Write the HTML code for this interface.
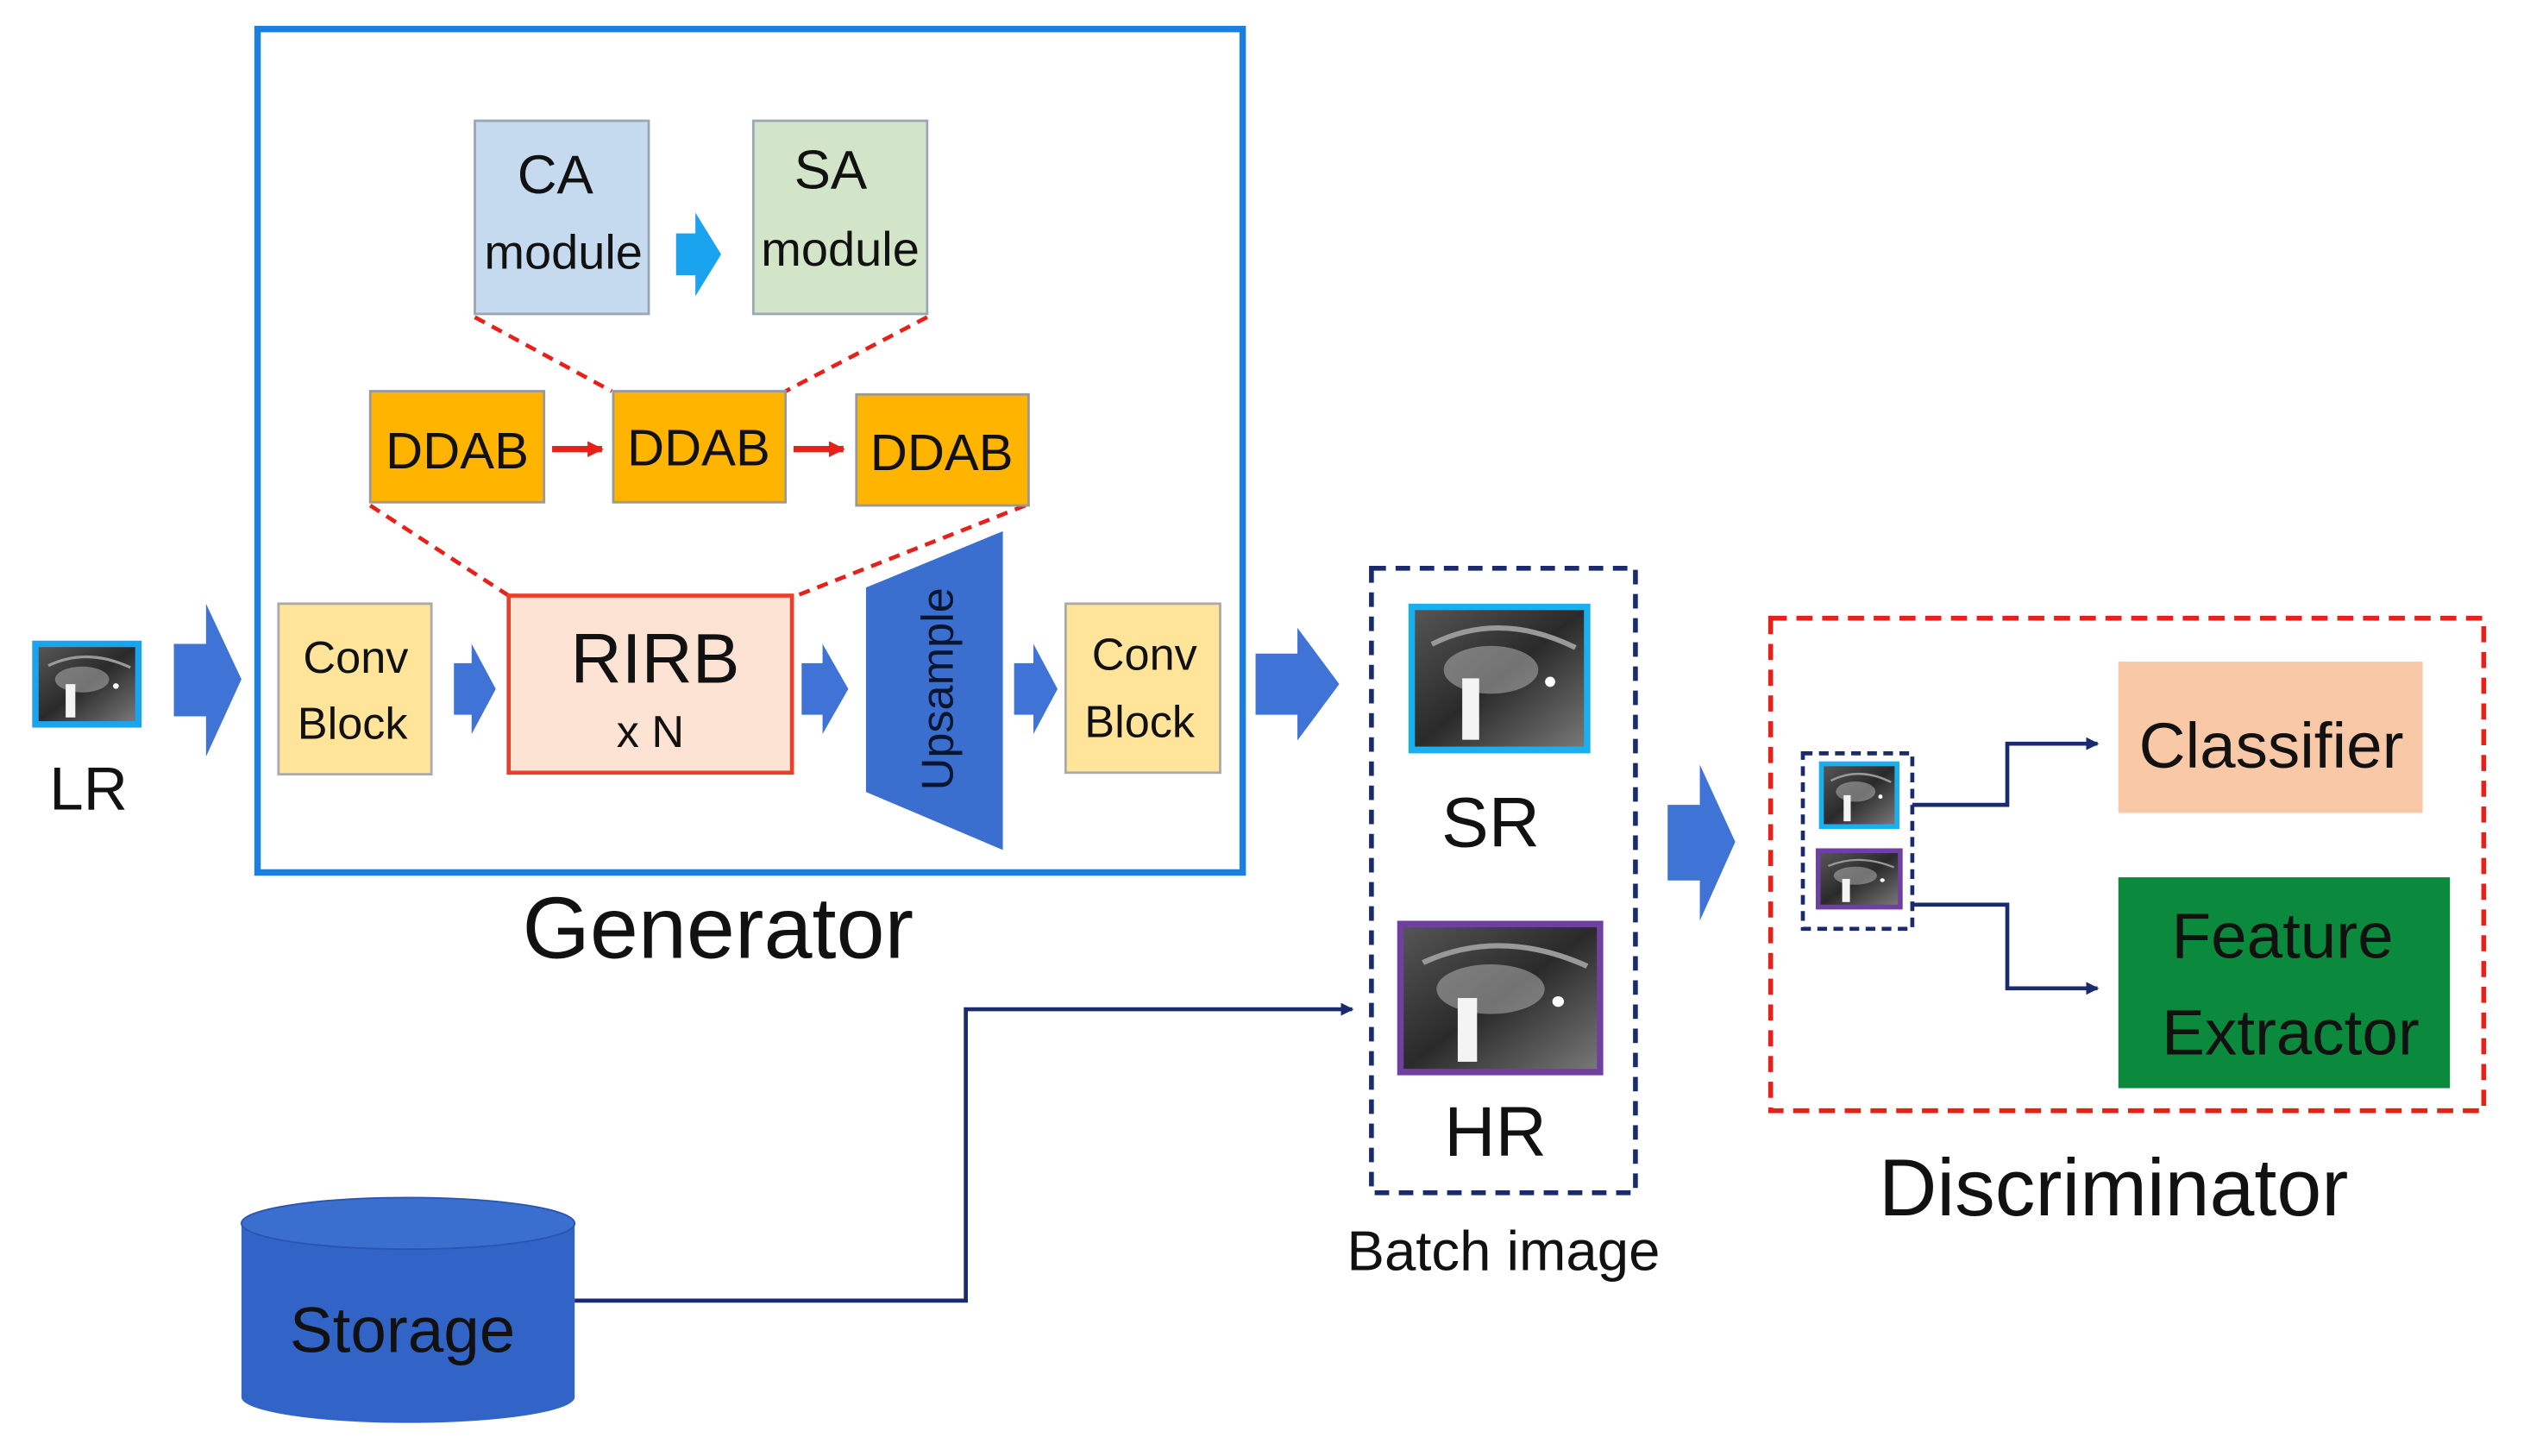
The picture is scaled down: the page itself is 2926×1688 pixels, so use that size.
<!DOCTYPE html>
<html><head><meta charset="utf-8"><style>
html,body{margin:0;padding:0;background:#fff;width:2926px;height:1688px;overflow:hidden}
svg{display:block}
text{font-family:"Liberation Sans",sans-serif;fill:#111}
</style></head><body>
<svg width="2926" height="1688" viewBox="0 0 1568 904.5" xmlns="http://www.w3.org/2000/svg">
<defs>
<marker id="nv" markerWidth="8" markerHeight="8" refX="7" refY="4" orient="auto" markerUnits="userSpaceOnUse"><path d="M0,0 L8,4 L0,8 z" fill="#1a2a6e"/></marker>
<marker id="rd" markerWidth="10" markerHeight="10" refX="9" refY="5" orient="auto" markerUnits="userSpaceOnUse"><path d="M0,0 L10,5 L0,10 z" fill="#e8201a"/></marker>
<linearGradient id="eye" x1="0" y1="0" x2="1" y2="1"><stop offset="0" stop-color="#555"/><stop offset="0.5" stop-color="#2a2a2a"/><stop offset="1" stop-color="#777"/></linearGradient>
<g id="eyeimg"><rect x="0" y="0" width="100" height="80" fill="url(#eye)"/><ellipse cx="45" cy="35" rx="28" ry="14" fill="#bbb" opacity="0.5"/><rect x="28" y="40" width="10" height="36" fill="#f4f4f4"/><circle cx="80" cy="42" r="3" fill="#fff"/><path d="M10,20 Q50,0 95,22" stroke="#999" stroke-width="3" fill="none"/></g>
</defs>

<rect x="160" y="18" width="612" height="524" fill="none" stroke="#1a7fe0" stroke-width="4"/>

<rect x="295" y="75" width="108" height="120" fill="#c5d9ef" stroke="#9aa6b6" stroke-width="1.5"/>
<text x="345" y="120" font-size="34" text-anchor="middle">CA</text>
<text x="350" y="167" font-size="30" text-anchor="middle">module</text>
<rect x="468" y="75" width="108" height="120" fill="#d3e5c8" stroke="#9aa6b6" stroke-width="1.5"/>
<text x="516" y="117" font-size="34" text-anchor="middle">SA</text>
<text x="522" y="165" font-size="30" text-anchor="middle">module</text>
<path d="M420,145 L432,145 L432,132 L448,158 L432,184 L432,171 L420,171 z" fill="#1aa3ee"/>

<g stroke="#e8201a" stroke-width="2.5" stroke-dasharray="7,5" fill="none">
<line x1="295" y1="197" x2="380" y2="243"/><line x1="576" y1="197" x2="488" y2="243"/>
<line x1="230" y1="314" x2="316" y2="370"/><line x1="637" y1="314" x2="495" y2="370"/>
</g>

<g stroke="#999" stroke-width="1.5" fill="#ffb400">
<rect x="230" y="243" width="108" height="69"/><rect x="381" y="243" width="107" height="69"/><rect x="532" y="245" width="107" height="69"/>
</g>
<text x="284" y="291" font-size="32" text-anchor="middle">DDAB</text>
<text x="434" y="289" font-size="32" text-anchor="middle">DDAB</text>
<text x="585" y="292" font-size="32" text-anchor="middle">DDAB</text>
<line x1="343" y1="279" x2="374" y2="279" stroke="#e8201a" stroke-width="4" marker-end="url(#rd)"/>
<line x1="493" y1="279" x2="524" y2="279" stroke="#e8201a" stroke-width="4" marker-end="url(#rd)"/>

<rect x="20" y="398" width="68" height="54" fill="#1aa3ee"/>
<use href="#eyeimg" transform="translate(24,402) scale(0.6,0.575)"/>
<text x="55" y="503" font-size="38" text-anchor="middle">LR</text>
<path d="M108,400 L128,400 L128,375 L150,422 L128,470 L128,445 L108,445 z" fill="#3f74d6"/>

<rect x="173" y="375" width="95" height="106" fill="#ffe49a" stroke="#aaa" stroke-width="1.5"/>
<text x="221" y="418" font-size="28" text-anchor="middle">Conv</text>
<text x="219" y="459" font-size="28" text-anchor="middle">Block</text>
<path d="M282,412 L293,412 L293,400 L308,428 L293,456 L293,444 L282,444 z" fill="#3f74d6"/>

<rect x="316" y="370" width="176" height="110" fill="#fde3d3" stroke="#e8402a" stroke-width="2.5"/>
<text x="407" y="424" font-size="44" text-anchor="middle">RIRB</text>
<text x="404" y="464" font-size="28" text-anchor="middle">x N</text>
<path d="M498,412 L511,412 L511,400 L527,428 L511,456 L511,444 L498,444 z" fill="#3f74d6"/>

<polygon points="538,365 623,330 623,528 538,492" fill="#3a6fd0"/>
<text transform="translate(592,428) rotate(-90)" font-size="28" text-anchor="middle" style="fill:#0a1530">Upsample</text>
<path d="M630,412 L642,412 L642,400 L657,428 L642,456 L642,444 L630,444 z" fill="#3f74d6"/>

<rect x="662" y="375" width="96" height="105" fill="#ffe49a" stroke="#aaa" stroke-width="1.5"/>
<text x="711" y="416" font-size="28" text-anchor="middle">Conv</text>
<text x="708" y="458" font-size="28" text-anchor="middle">Block</text>

<text x="446" y="595" font-size="54" text-anchor="middle">Generator</text>

<path d="M780,406 L806,406 L806,390 L832,425 L806,460 L806,444 L780,444 z" fill="#3f74d6"/>

<rect x="852" y="353" width="164" height="388" fill="none" stroke="#1a2a6e" stroke-width="3" stroke-dasharray="9,6"/>
<rect x="875" y="375" width="113" height="93" fill="#1ab0f0"/>
<use href="#eyeimg" transform="translate(879,379) scale(1.05,1.06)"/>
<text x="926" y="526" font-size="44" text-anchor="middle">SR</text>
<rect x="868" y="572" width="128" height="96" fill="#7040a0"/>
<use href="#eyeimg" transform="translate(872,576) scale(1.2,1.1)"/>
<text x="929" y="718" font-size="44" text-anchor="middle">HR</text>
<text x="934" y="789" font-size="35" text-anchor="middle">Batch image</text>

<path d="M1036,500 L1056,500 L1056,475 L1078,523 L1056,572 L1056,547 L1036,547 z" fill="#3f74d6"/>

<rect x="1100" y="384" width="443" height="306" fill="none" stroke="#e8201a" stroke-width="3" stroke-dasharray="10,6"/>
<rect x="1120" y="468" width="68" height="109" fill="none" stroke="#1a2a6e" stroke-width="2.5" stroke-dasharray="6,4"/>
<rect x="1130" y="473" width="50" height="42" fill="#1ab0f0"/>
<use href="#eyeimg" transform="translate(1133,476) scale(0.44,0.45)"/>
<rect x="1128" y="527" width="54" height="38" fill="#7040a0"/>
<use href="#eyeimg" transform="translate(1131,530) scale(0.48,0.4)"/>
<polyline points="1188,500 1247,500 1247,462 1303,462" fill="none" stroke="#1a2a6e" stroke-width="2.5" marker-end="url(#nv)"/>
<polyline points="1188,562 1247,562 1247,614 1303,614" fill="none" stroke="#1a2a6e" stroke-width="2.5" marker-end="url(#nv)"/>
<rect x="1316" y="411" width="189" height="94" fill="#f9c8a7"/>
<text x="1411" y="477" font-size="40" text-anchor="middle">Classifier</text>
<rect x="1316" y="545" width="206" height="131" fill="#0b8a3e"/>
<text x="1418" y="595" font-size="40" text-anchor="middle">Feature</text>
<text x="1423" y="655" font-size="40" text-anchor="middle">Extractor</text>
<text x="1313" y="755" font-size="50" text-anchor="middle">Discriminator</text>

<path d="M150,760 L150,868 A103.5,16 0 0 0 357,868 L357,760 z" fill="#3264c8"/>
<ellipse cx="253.5" cy="760" rx="103.5" ry="16" fill="#3a6fd0" stroke="#2a55b0" stroke-width="1"/>
<text x="250" y="840" font-size="40" text-anchor="middle">Storage</text>
<polyline points="357,808 600,808 600,627 840,627" fill="none" stroke="#1a2a6e" stroke-width="2.5" marker-end="url(#nv)"/>
</svg>
</body></html>
